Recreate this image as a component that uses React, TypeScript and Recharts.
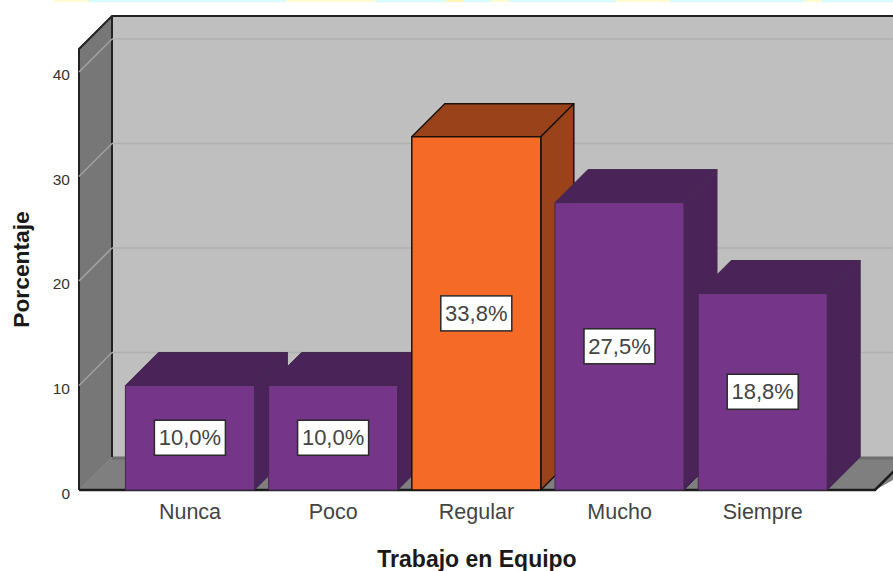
import { BarChart, Bar, XAxis, YAxis, LabelList, ReferenceArea, Label } from 'recharts'

const CATEGORIES = ['Nunca', 'Poco', 'Regular', 'Mucho', 'Siempre']
const PERCENTAGES = [10.0, 10.0, 33.8, 27.5, 18.8]
const Y_TICKS = [0, 10, 20, 30, 40]
const Y_MAX = 42.2

const FONT = '"Liberation Sans", Arial, sans-serif'
const DEPTH = 33
const PAD_LEFT = 39.4
const PAD_RIGHT = 40.6

const PURPLE = { front: '#75368a', top: '#4a2358', side: '#4a2358', edge: '#43284f', edgeWidth: 1 }
const ORANGE = { front: '#f56a27', top: '#9a4219', side: '#9a4219', edge: '#1c120c', edgeWidth: 1.5 }

const TOP_STRIP = 'linear-gradient(90deg, #fff 0 6%, #fffbd0 6% 10%, #d8fbff 10% 32%, #fffbd0 32% 42%, #d8fbff 42% 50%, #fff7b8 50% 52%, #d8fbff 52% 55%, #fffbd0 55% 57%, #d8fbff 57% 69%, #fffbd0 69% 75%, #d8fbff 75% 90%, #fffbd0 90% 92%, #d8fbff 92% 100%)'

const data = CATEGORIES.map((name, i) => ({ name, value: PERCENTAGES[i] }))

// Box with a depth offset: top and side faces first, then the front
function Bar3D(props: any) {
    const { x, y, width, height, payload } = props
    const c = payload.name === 'Regular' ? ORANGE : PURPLE
    const r = x + width
    const b = y + height
    return (
        <g stroke={c.edge} strokeWidth={c.edgeWidth} strokeLinejoin="round">
            <polygon points={`${x},${y} ${x + DEPTH},${y - DEPTH} ${r + DEPTH},${y - DEPTH} ${r},${y}`} fill={c.top} />
            <polygon points={`${r},${y} ${r + DEPTH},${y - DEPTH} ${r + DEPTH},${b - DEPTH} ${r},${b}`} fill={c.side} />
            <rect x={x} y={y} width={width} height={height} fill={c.front} />
        </g>
    )
}

// Back wall, left wall and floor of the plot box
function Walls(props: any) {
    const { x: innerX, y, width, height } = props
    const x = innerX - PAD_LEFT
    const r = innerX + width + PAD_RIGHT
    const b = y + height
    const far = r + 60
    return (
        <g>
            <rect x={x + DEPTH} y={y - DEPTH} width={far - x} height={height} fill="#bfbfbf" />
            <polygon points={`${x},${y} ${x + DEPTH},${y - DEPTH} ${x + DEPTH},${b - DEPTH} ${x},${b}`} fill="#777777" />
            <polygon points={`${x},${b} ${x + DEPTH},${b - DEPTH} ${far},${b - DEPTH} ${r},${b}`} fill="#7f7f7f" />
            <line x1={x} y1={b} x2={x + DEPTH} y2={b - DEPTH} stroke="#868686" />
            <line x1={x + DEPTH} y1={b - DEPTH + 1} x2={far} y2={b - DEPTH + 1} stroke="#6e6e6e" strokeWidth={3} />
            <polyline points={`${x},${b} ${x},${y} ${x + DEPTH},${y - DEPTH} ${far},${y - DEPTH}`} fill="none" stroke="#222" strokeWidth={2} />
            <line x1={x + DEPTH} y1={y - DEPTH} x2={x + DEPTH} y2={b - DEPTH} stroke="#222" strokeWidth={2} />
            <polyline points={`${x},${b} ${r},${b} ${r + DEPTH},${b - DEPTH}`} fill="none" stroke="#1c1c1c" strokeWidth={2.5} />
        </g>
    )
}

// Gridline running across the left wall and on along the back wall
function GridTick(props: any) {
    const { x: innerX, y } = props
    const x = innerX - PAD_LEFT
    return (
        <g fill="none">
            <line x1={x} y1={y} x2={x + DEPTH} y2={y - DEPTH} stroke="#a3a3a3" strokeWidth={1.5} />
            <line x1={x + DEPTH} y1={y - DEPTH} x2={960} y2={y - DEPTH} stroke="#b0b0b0" strokeWidth={1.5} />
        </g>
    )
}

function ValueBox(props: any) {
    const { x, y, width, height, value } = props
    const cx = x + width / 2
    const cy = y + height / 2
    return (
        <g>
            <rect x={cx - 35.5} y={cy - 17.5} width={71} height={35} fill="#fff" stroke="#2a2a2a" strokeWidth={1.5} />
            <text x={cx} y={cy + 7.5} textAnchor="middle" fontFamily={FONT} fontSize={22} fill="#444">
                {value.toFixed(1).replace('.', ',')}%
            </text>
        </g>
    )
}

export default function App() {
    return (
        <div style={{ position: 'absolute', left: 0, top: 0, width: 893, height: 571, background: '#fff', overflow: 'hidden' }}>
            <div style={{ height: 2, background: TOP_STRIP }} />
            <div style={{ position: 'absolute', left: 0, top: 0 }}>
                <BarChart
                    width={893}
                    height={571}
                    data={data}
                    barSize={129}
                    margin={{ top: 49, right: 18, bottom: 0, left: 0 }}
                >
                    <XAxis
                        dataKey="name"
                        height={81}
                        padding={{ left: PAD_LEFT, right: PAD_RIGHT }}
                        axisLine={false}
                        tickLine={false}
                        tickMargin={8}
                        tick={{ fontFamily: FONT, fontSize: 21.5, fill: '#444' }}
                    >
                        <Label value="Trabajo en Equipo" position="insideBottom" offset={0} dy={-4} fontFamily={FONT} fontSize={23} fontWeight="bold" fill="#1a1a1a" />
                    </XAxis>
                    <YAxis
                        domain={[0, Y_MAX]}
                        ticks={Y_TICKS}
                        width={79}
                        axisLine={false}
                        tickLine={false}
                        tickMargin={3}
                        tick={{ fontFamily: FONT, fontSize: 15.5, fill: '#333', dy: 3 }}
                    >
                        <Label value="Porcentaje" angle={-90} position="insideLeft" offset={0} dx={21} textAnchor="middle" fontFamily={FONT} fontSize={22.8} fontWeight="bold" fill="#1a1a1a" />
                    </YAxis>
                    <ReferenceArea y1={0} y2={Y_MAX} ifOverflow="visible" shape={<Walls />} />
                    {Y_TICKS.filter(t => t > 0).map(t => (
                        <ReferenceArea key={t} y1={t} y2={t} ifOverflow="visible" shape={<GridTick />} />
                    ))}
                    <Bar dataKey="value" shape={<Bar3D />} isAnimationActive={false}>
                        <LabelList dataKey="value" content={<ValueBox />} />
                    </Bar>
                </BarChart>
            </div>
        </div>
    )
}
